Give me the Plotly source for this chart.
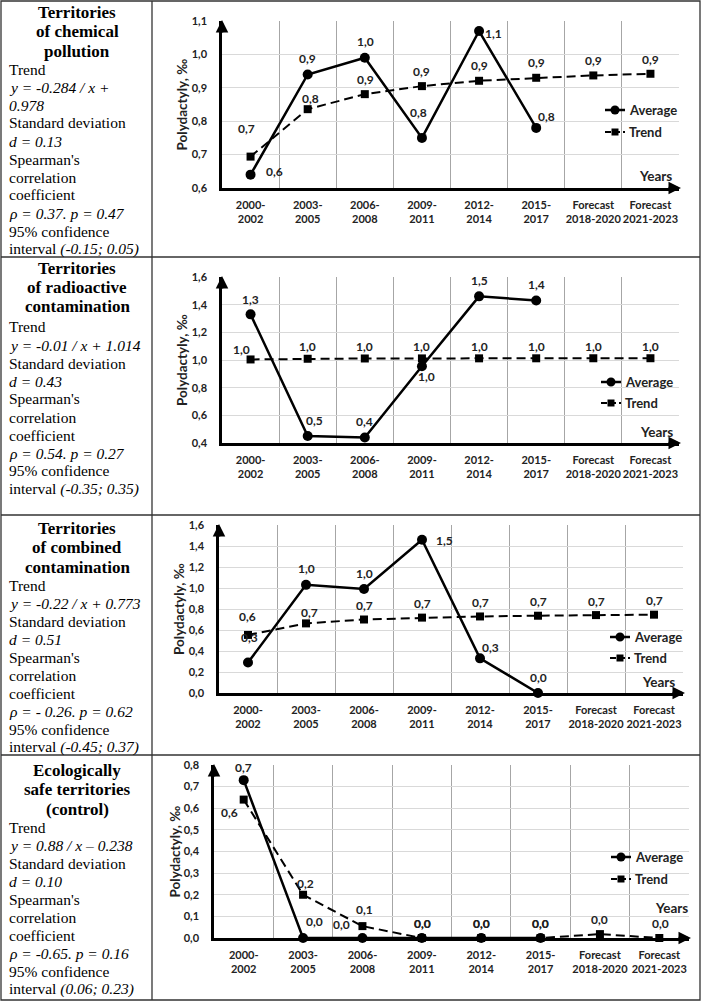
import plotly.graph_objects as go

W, H = 703, 1001

# ---------------- data ----------------
categories = ["2000-<br>2002", "2003-<br>2005", "2006-<br>2008", "2009-<br>2011",
              "2012-<br>2014", "2015-<br>2017", "Forecast<br>2018-2020", "Forecast<br>2021-2023"]
observed = categories[:6]

chem_avg = [0.64, 0.94, 0.99, 0.75, 1.07, 0.78]
chem_trend = [0.694, 0.836, 0.881, 0.905, 0.921, 0.930, 0.937, 0.942]

rad_avg = [1.33, 0.45, 0.44, 0.955, 1.46, 1.43]
rad_trend = [1.004, 1.009, 1.011, 1.0115, 1.012, 1.0123, 1.0126, 1.0128]

comb_avg = [0.29, 1.03, 0.99, 1.46, 0.33, 0.0]
comb_trend = [0.553, 0.663, 0.700, 0.718, 0.729, 0.736, 0.742, 0.746]

ctrl_avg = [0.73, 0.0, 0.0, 0.0, 0.0, 0.0]
ctrl_trend = [0.64, 0.20, 0.055, 0.0, 0.0, 0.0, 0.018, 0.0]

y_ranges = [[0.6, 1.1], [0.4, 1.6], [0.0, 1.6], [0.0, 0.8]]
y_dticks = [0.1, 0.2, 0.2, 0.1]

series_names = ["Average", "Trend"]
y_title = "Polydactyly, ‰"
x_title = "Years"

titles = [
    ["Territories", "of chemical", "pollution"],
    ["Territories", "of radioactive", "contamination"],
    ["Territories", "of combined", "contamination"],
    ["Ecologically", "safe territories", "(control)"],
]
bodies = [
    ["Trend", "<i>y = -0.284 / x +</i>", "<i>0.978</i>", "Standard deviation", "<i>d = 0.13</i>",
     "Spearman's", "correlation", "coefficient", "<i>ρ = 0.37. p = 0.47</i>",
     "95% confidence", "interval <i>(-0.15; 0.05)</i>"],
    ["Trend", "<i>y = -0.01 / x + 1.014</i>", "Standard deviation", "<i>d = 0.43</i>",
     "Spearman's", "correlation", "coefficient", "<i>ρ = 0.54. p = 0.27</i>",
     "95% confidence", "interval <i>(-0.35; 0.35)</i>"],
    ["Trend", "<i>y = -0.22 / x + 0.773</i>", "Standard deviation", "<i>d = 0.51</i>",
     "Spearman's", "correlation", "coefficient", "<i>ρ = - 0.26. p = 0.62</i>",
     "95% confidence", "interval <i>(-0.45; 0.37)</i>"],
    ["Trend", "<i>y = 0.88 / x – 0.238</i>", "Standard deviation", "<i>d = 0.10</i>",
     "Spearman's", "correlation", "coefficient", "<i>ρ = -0.65. p = 0.16</i>",
     "95% confidence", "interval <i>(0.06; 0.23)</i>"],
]

averages = [chem_avg, rad_avg, comb_avg, ctrl_avg]
trends = [chem_trend, rad_trend, comb_trend, ctrl_trend]

# ---------------- layout / style ----------------
FONT = "Lato"
SERIF = "Liberation Serif"
TXT = "#222222"
VGRID = "#a6a6a6"
HGRID = "#d9d9d9"

panels = [  # pixel boxes of plot areas
    dict(x0=222, x1=679, y0=21, y1=188, years=(655, 176),
         legend=(605, 110, 132), tstart=12, bstart=69),
    dict(x0=222, x1=679, y0=277, y1=443, years=(656, 432),
         legend=(601, 382, 403), tstart=268, bstart=327),
    dict(x0=219, x1=683, y0=525, y1=693, years=(658, 682),
         legend=(610, 637, 658), tstart=528, bstart=585),
    dict(x0=214, x1=689, y0=765, y1=938, years=(671, 908),
         legend=(611, 857, 879), tstart=770, bstart=827),
]

avg_offsets = [
    [(24, 3), (0, 16), (1, 16), (-3, 25), (14, -2), (10, 11)],
    [(0, 15), (7, 16), (0, 16), (5, -10), (0, 16), (0, 16)],
    [(1, 25), (0, 16), (0, 16), (22, -1), (10, 11), (0, 16)],
    [(0, 13), (11, 17), (-21, 14), (1, 15), (0, 15), (0, 15)],
]
trend_offsets = [
    [(-4, 28), (3, 11), (1, 15), (0, 15), (0, 15), (0, 15), (0, 15), (0, 14)],
    [(-9, 10)] + [(0, 12)] * 7,
    [(-1, 18), (3, 11)] + [(0, 14)] * 6,
    [(-14, -13), (2, 11), (2, 17), (1, 15), (0, 15), (0, 15), (0, 15), (1, 15)],
]


def px_x(x):
    return x / W


def px_y(y):
    return 1 - y / H


def fmt(v):
    return f"{v:.1f}".replace(".", ",")


fig = go.Figure()
annotations = []
shapes = []
layout = dict(width=W, height=H, margin=dict(l=0, r=0, t=0, b=0, autoexpand=False),
              paper_bgcolor="white", plot_bgcolor="white", separators=", ",
              showlegend=False)

for i, p in enumerate(panels):
    n = "" if i == 0 else str(i + 1)
    xa, ya = "x" + n, "y" + n
    tickfont = dict(family=FONT, size=11, color=TXT, weight="bold")
    layout["xaxis" + n] = dict(
        domain=[px_x(p["x0"]), px_x(p["x1"])], anchor=ya, type="category",
        categoryorder="array", categoryarray=categories, range=[-0.5, 7.5],
        tickson="boundaries", showgrid=True, gridcolor=VGRID, gridwidth=1,
        showline=True, linecolor="black", linewidth=2.5, ticks="", tickangle=0,
        tickfont=tickfont, ticklabelstandoff=5, fixedrange=True, zeroline=False,
        automargin=False)
    layout["yaxis" + n] = dict(
        domain=[px_y(p["y1"]), px_y(p["y0"])], anchor=xa, range=y_ranges[i],
        dtick=y_dticks[i], tick0=0, tickformat=".1f", showgrid=True,
        gridcolor=HGRID, gridwidth=1, showline=True, linecolor="black",
        linewidth=2.5, ticks="", tickfont=tickfont, ticklabelstandoff=10,
        zeroline=False, fixedrange=True, automargin=False)

    fig.add_trace(go.Scatter(
        x=observed, y=averages[i], mode="lines+markers", name=series_names[0],
        line=dict(color="black", width=2.5), marker=dict(symbol="circle", size=10, color="black"),
        xaxis=xa, yaxis=ya, cliponaxis=False))
    fig.add_trace(go.Scatter(
        x=categories, y=trends[i], mode="lines+markers", name=series_names[1],
        line=dict(color="black", width=2, dash="9px,5px"),
        marker=dict(symbol="square", size=8, color="black"),
        xaxis=xa, yaxis=ya, cliponaxis=False))

    lab_font = dict(family=FONT, size=12, color=TXT, weight="bold")
    for cat, v, (dx, dy) in zip(observed, averages[i], avg_offsets[i]):
        annotations.append(dict(x=cat, y=v, xref=xa, yref=ya, text=fmt(v), showarrow=False,
                                xanchor="center", yanchor="middle",
                                xshift=dx, yshift=dy, font=lab_font))
    for cat, v, (dx, dy) in zip(categories, trends[i], trend_offsets[i]):
        annotations.append(dict(x=cat, y=v, xref=xa, yref=ya, text=fmt(v), showarrow=False,
                                xanchor="center", yanchor="middle",
                                xshift=dx, yshift=dy, font=lab_font))

    # axis arrows
    annotations.append(dict(x=px_x(p["x0"]), y=px_y(p["y0"] - 1), xref="paper", yref="paper",
                            text="", showarrow=True, ax=0, ay=14, arrowhead=2, arrowsize=1,
                            arrowwidth=2.5, arrowcolor="black", standoff=0))
    annotations.append(dict(x=px_x(p["x1"] + 2), y=px_y(p["y1"]), xref="paper", yref="paper",
                            text="", showarrow=True, ax=-14, ay=0, arrowhead=2, arrowsize=1,
                            arrowwidth=2.5, arrowcolor="black", standoff=0))
    # Years
    annotations.append(dict(x=px_x(p["years"][0]), y=px_y(p["years"][1]), xref="paper", yref="paper",
                            text=x_title, showarrow=False, xanchor="center", yanchor="middle",
                            font=dict(family=FONT, size=13.5, color=TXT, weight="bold")))
    # y title
    annotations.append(dict(x=px_x(p["x0"] - 40), y=px_y((p["y0"] + p["y1"]) / 2), xref="paper",
                            yref="paper", text=y_title, textangle=-90, showarrow=False,
                            xanchor="center", yanchor="middle",
                            font=dict(family=FONT, size=13.5, color=TXT, weight="bold")))

    # manual legend (symbol + label)
    lx, ly1, ly2 = p["legend"]
    cx = lx + 10
    shapes.append(dict(type="line", xref="paper", yref="paper", x0=px_x(lx), x1=px_x(lx + 20),
                       y0=px_y(ly1), y1=px_y(ly1), line=dict(color="black", width=2.5)))
    shapes.append(dict(type="circle", xref="paper", yref="paper", xsizemode="pixel",
                       ysizemode="pixel", xanchor=px_x(cx), yanchor=px_y(ly1),
                       x0=-4.5, x1=4.5, y0=-4.5, y1=4.5, fillcolor="black",
                       line=dict(color="black", width=0)))
    shapes.append(dict(type="line", xref="paper", yref="paper", x0=px_x(lx), x1=px_x(lx + 20),
                       y0=px_y(ly2), y1=px_y(ly2), line=dict(color="black", width=2, dash="6px,3px")))
    shapes.append(dict(type="rect", xref="paper", yref="paper", xsizemode="pixel",
                       ysizemode="pixel", xanchor=px_x(cx), yanchor=px_y(ly2),
                       x0=-3.5, x1=3.5, y0=-3.5, y1=3.5, fillcolor="black",
                       line=dict(color="black", width=0)))
    for name, yy in zip(series_names, (ly1, ly2)):
        annotations.append(dict(x=px_x(lx + 22), y=px_y(yy), xref="paper", yref="paper",
                                text=name, showarrow=False, xanchor="left", yanchor="middle",
                                font=dict(family=FONT, size=13, color=TXT, weight="bold")))

    # left column text
    for k, line in enumerate(titles[i]):
        annotations.append(dict(x=px_x(77), y=px_y(p["tstart"] + 19.5 * k), xref="paper", yref="paper",
                                text="<b>" + line + "</b>", showarrow=False, xanchor="center",
                                yanchor="middle", font=dict(family=SERIF, size=17, color="black")))
    for k, line in enumerate(bodies[i]):
        annotations.append(dict(x=px_x(7), y=px_y(p["bstart"] + 18 * k), xref="paper", yref="paper",
                                text=line, showarrow=False, xanchor="left",
                                yanchor="middle", font=dict(family=SERIF, size=15.5, color="black")))

# table borders
border = dict(color="#333333", width=1.3)
shapes.append(dict(type="rect", xref="paper", yref="paper", x0=px_x(1), x1=px_x(700),
                   y0=px_y(1000), y1=px_y(1), line=border))
shapes.append(dict(type="line", xref="paper", yref="paper", x0=px_x(152), x1=px_x(152),
                   y0=px_y(1000), y1=px_y(1), line=border))
for yy in (257, 515, 755):
    shapes.append(dict(type="line", xref="paper", yref="paper", x0=px_x(1), x1=px_x(700),
                       y0=px_y(yy), y1=px_y(yy), line=border))

layout["annotations"] = annotations
layout["shapes"] = shapes
fig.update_layout(**layout)
fig.write_html("out.html", config={"displayModeBar": False},
               post_script="document.body.style.margin='0';document.body.style.overflow='hidden';")
